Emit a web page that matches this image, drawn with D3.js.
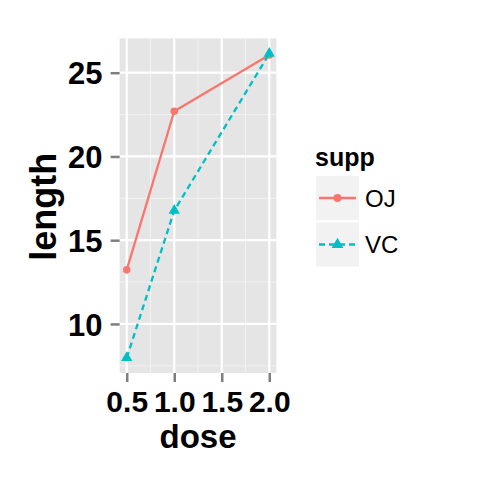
<!DOCTYPE html>
<html>
<head>
<meta charset="utf-8">
<script src="https://cdn.jsdelivr.net/npm/d3@7"></script>
<style>
  body { margin: 0; background: #fff; }
  text { font-family: "Liberation Sans", Arial, sans-serif; }
</style>
</head>
<body>
<div id="chart"></div>
<script>
var doses = [0.5, 1.0, 2.0];
var groups = ["OJ", "VC"];
var ojLength = [13.23, 22.70, 26.06];
var vcLength = [7.98, 16.77, 26.14];
var xTicks = [0.5, 1.0, 1.5, 2.0];
var xMinor = [0.75, 1.25, 1.75];
var yTicks = [10, 15, 20, 25];
var yMinor = [7.5, 12.5, 17.5, 22.5];
var colors = ["#F8766D", "#00BFC4"];

var W = 480, H = 480;
var panel = {left: 119.6, right: 276.4, top: 38.4, bottom: 373};

var svg = d3.select("#chart").append("svg")
  .attr("width", W).attr("height", H);

// 5% expansion like ggplot
var xr = d3.extent(doses), yr = d3.extent(ojLength.concat(vcLength));
var xpad = (xr[1] - xr[0]) * 0.05, ypad = (yr[1] - yr[0]) * 0.05;
var x = d3.scaleLinear().domain([xr[0] - xpad, xr[1] + xpad]).range([panel.left, panel.right]);
var y = d3.scaleLinear().domain([yr[0] - ypad, yr[1] + ypad]).range([panel.bottom, panel.top]);

svg.append("rect")
  .attr("x", panel.left).attr("y", panel.top)
  .attr("width", panel.right - panel.left).attr("height", panel.bottom - panel.top)
  .attr("fill", "#E5E5E5");

var grid = svg.append("g");
grid.selectAll(".xminor").data(xMinor).enter().append("line")
  .attr("x1", x).attr("x2", x).attr("y1", panel.top).attr("y2", panel.bottom)
  .attr("stroke", "#F2F2F2").attr("stroke-width", 1);
grid.selectAll(".yminor").data(yMinor).enter().append("line")
  .attr("y1", y).attr("y2", y).attr("x1", panel.left).attr("x2", panel.right)
  .attr("stroke", "#F2F2F2").attr("stroke-width", 1);
grid.selectAll(".xmajor").data(xTicks).enter().append("line")
  .attr("x1", x).attr("x2", x).attr("y1", panel.top).attr("y2", panel.bottom)
  .attr("stroke", "#fff").attr("stroke-width", 2.2);
grid.selectAll(".ymajor").data(yTicks).enter().append("line")
  .attr("y1", y).attr("y2", y).attr("x1", panel.left).attr("x2", panel.right)
  .attr("stroke", "#fff").attr("stroke-width", 2.2);

// axes
var xAxis = svg.append("g")
  .attr("transform", "translate(0," + panel.bottom + ")")
  .call(d3.axisBottom(x).tickValues(xTicks).tickFormat(d3.format(".1f")).tickSize(9).tickPadding(0));
var yAxis = svg.append("g")
  .attr("transform", "translate(" + panel.left + ",0)")
  .call(d3.axisLeft(y).tickValues(yTicks).tickSize(9).tickPadding(8));
[xAxis, yAxis].forEach(function(a){
  a.select(".domain").remove();
  a.selectAll(".tick line").attr("stroke", "#7F7F7F").attr("stroke-width", 2.5);
  a.selectAll(".tick text").attr("fill", "#000").style("font-weight", "bold");
});
xAxis.selectAll(".tick text").attr("dy", null).attr("y", 39).style("font-size", "30px");
yAxis.selectAll(".tick text").attr("dy", "0.36em").style("font-size", "31px");

svg.append("text").attr("x", (panel.left + panel.right) / 2).attr("y", 448)
  .attr("text-anchor", "middle").style("font-size", "33px").style("font-weight", "bold")
  .text("dose");
svg.append("text").attr("transform", "translate(56," + ((panel.top + panel.bottom) / 2 + 1) + ") rotate(-90)")
  .attr("text-anchor", "middle").style("font-size", "36px").style("font-weight", "bold")
  .text("length");

// series
var series = [ojLength, vcLength];
var line = d3.line().x(function(d, i){ return x(doses[i]); }).y(function(d){ return y(d); });
series.forEach(function(vals, s){
  svg.append("path").datum(vals)
    .attr("d", line)
    .attr("fill", "none")
    .attr("stroke", colors[s]).attr("stroke-width", 2.3)
    .attr("stroke-dasharray", s === 1 ? "6,4" : null);
  svg.selectAll(".pt" + s).data(vals).enter().append("path")
    .attr("transform", function(d, i){ return "translate(" + x(doses[i]) + "," + y(d) + ")"; })
    .attr("d", d3.symbol().type(s === 0 ? d3.symbolCircle : d3.symbolTriangle).size(s === 0 ? 45 : 55))
    .attr("fill", colors[s]);
});

// legend
var leg = svg.append("g").attr("transform", "translate(316,0)");
leg.append("text").attr("x", -1).attr("y", 166)
  .style("font-size", "25px").style("font-weight", "bold").text("supp");
groups.forEach(function(g, i){
  var top = 176 + i * 46.5;
  leg.append("rect").attr("x", 0).attr("y", top).attr("width", 43).attr("height", 44)
    .attr("fill", "#F2F2F2");
  leg.append("line").attr("x1", 3).attr("x2", 40).attr("y1", top + 22).attr("y2", top + 22)
    .attr("stroke", colors[i]).attr("stroke-width", 2.3)
    .attr("stroke-dasharray", i === 1 ? "6,4" : null);
  leg.append("path").attr("transform", "translate(21.5," + (top + 22) + ")")
    .attr("d", d3.symbol().type(i === 0 ? d3.symbolCircle : d3.symbolTriangle).size(i === 0 ? 50 : 60))
    .attr("fill", colors[i]);
  leg.append("text").attr("x", 49).attr("y", top + 22).attr("dy", "0.36em")
    .style("font-size", "24px").text(g);
});
</script>
</body>
</html>
